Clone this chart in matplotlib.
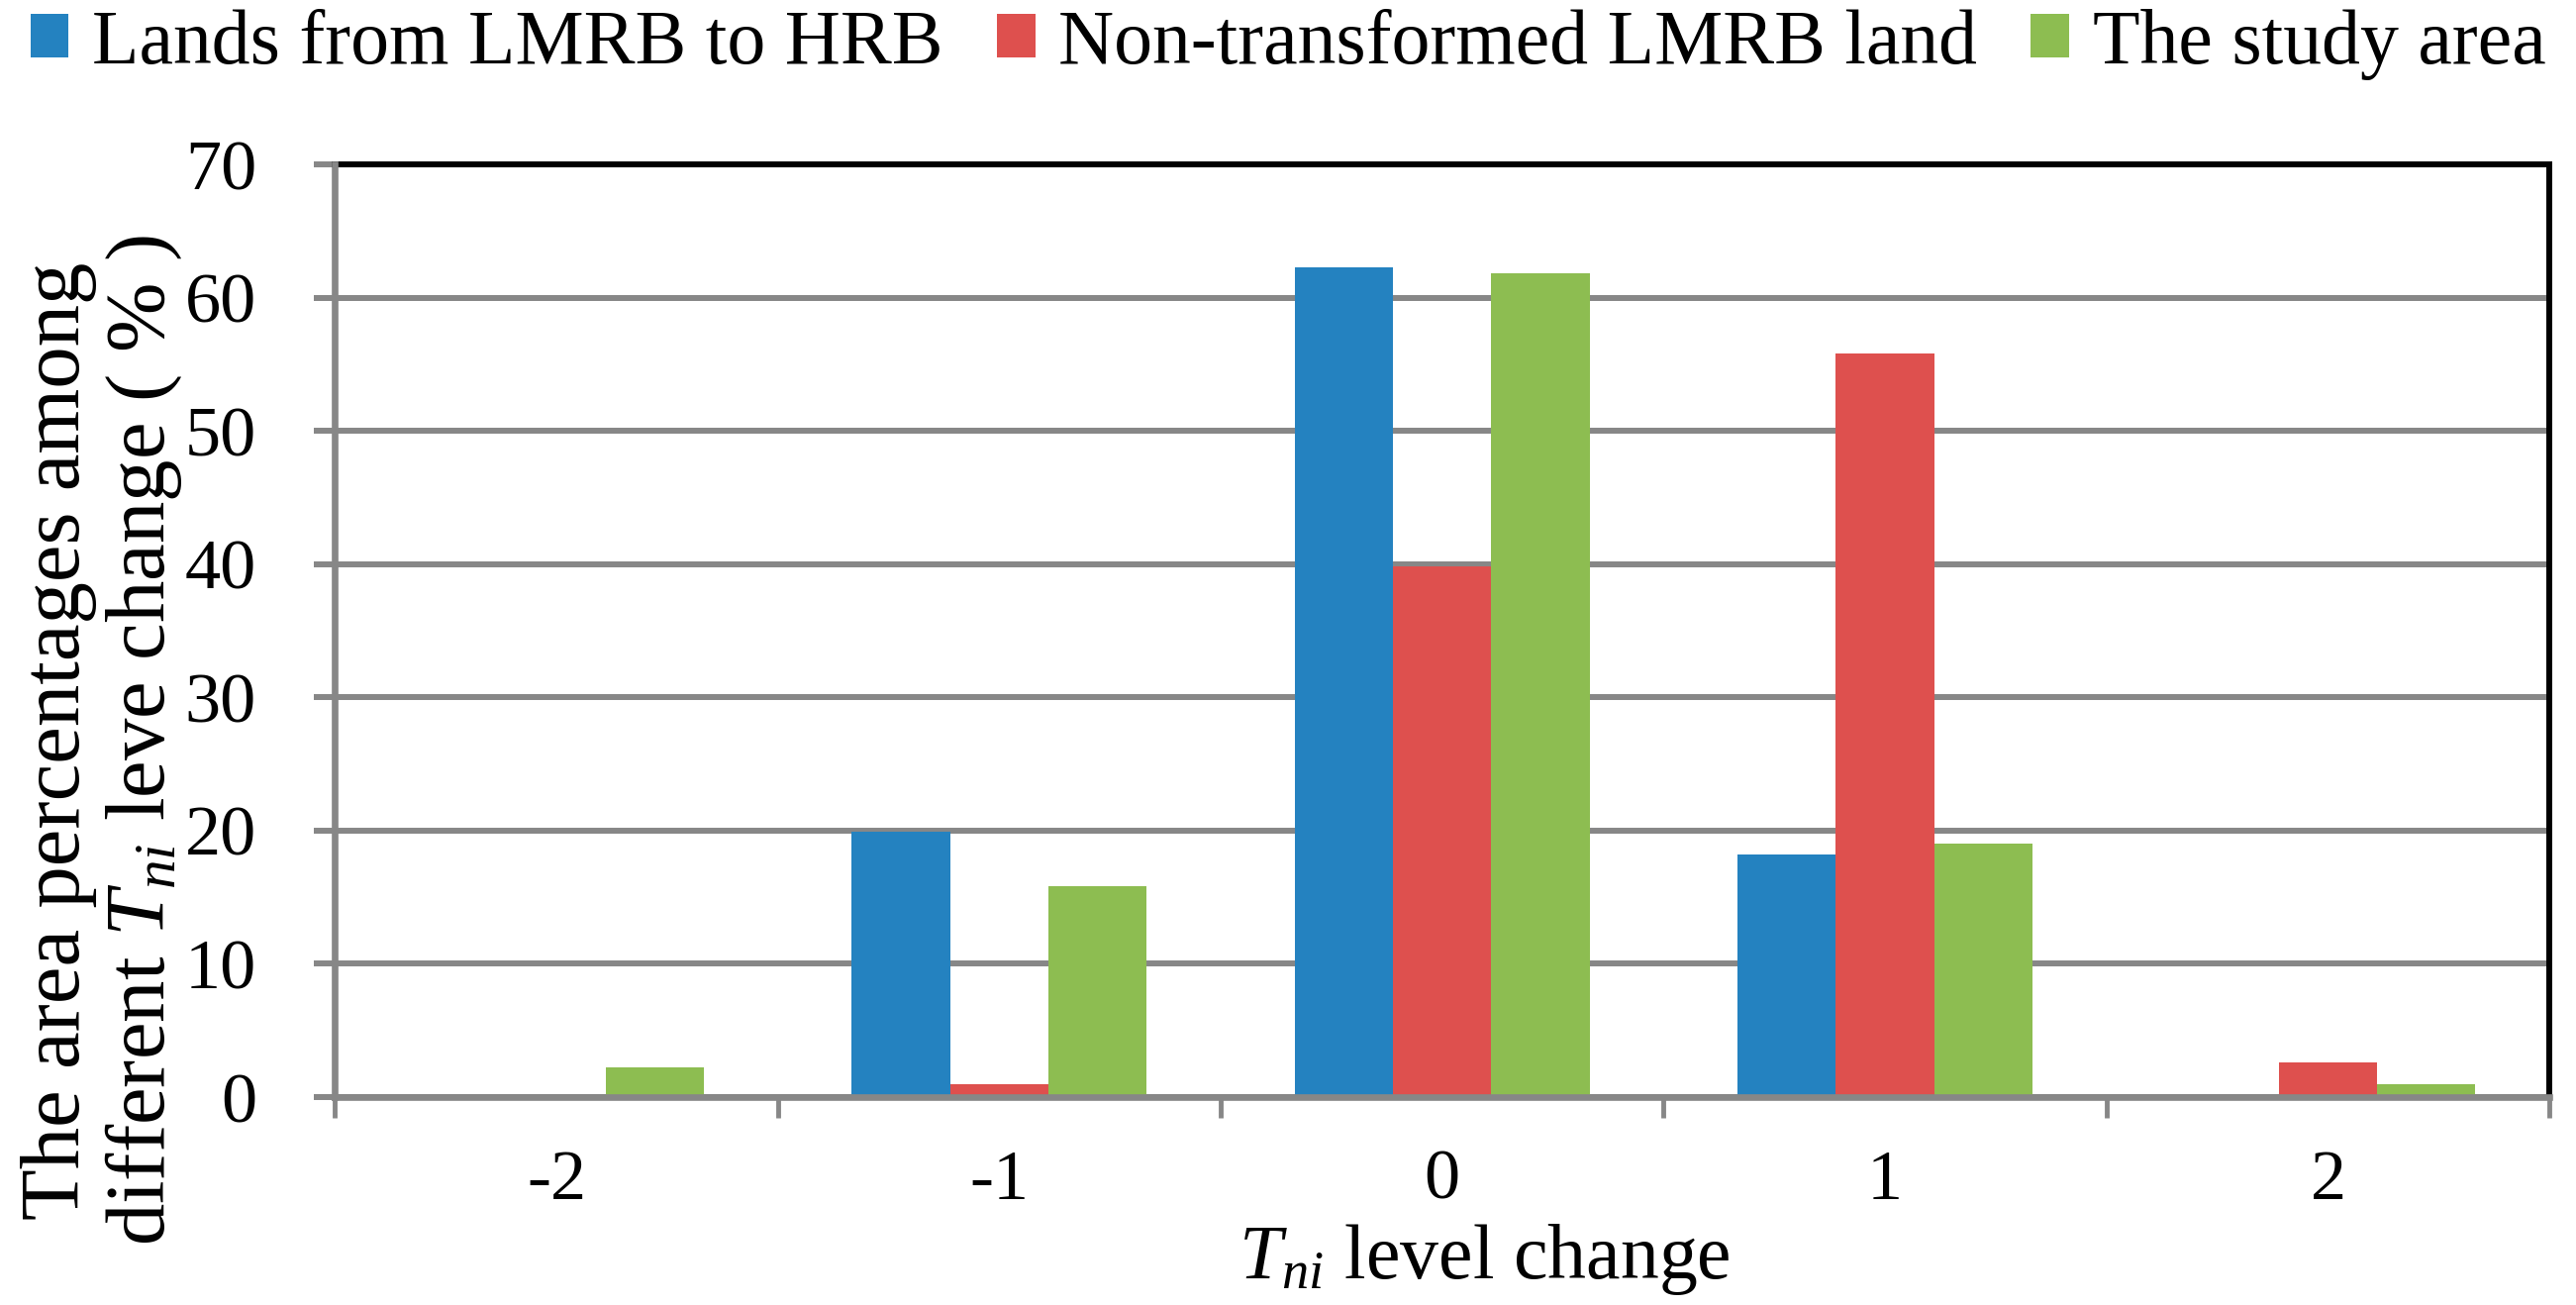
import matplotlib
matplotlib.use("Agg")
import matplotlib.pyplot as plt
from matplotlib.ticker import FixedLocator
import numpy as np

# --------------------------------------------------------------------------- #
# data
# --------------------------------------------------------------------------- #
levels = ["-2", "-1", "0", "1", "2"]
series_names = ["Lands from LMRB to HRB", "Non-transformed LMRB land", "The study area"]
lands_lmrb_to_hrb = [0.0, 19.9, 62.3, 18.2, 0.0]
non_transformed_lmrb = [0.0, 1.0, 39.8, 55.8, 2.6]
study_area = [2.2, 15.8, 61.8, 19.0, 1.0]
y_ticks = [0, 10, 20, 30, 40, 50, 60, 70]

colors = ["#2482c0", "#de504e", "#8dbd51"]
GRAY = "#878787"

plt.rcParams["font.family"] = ["Liberation Serif", "DejaVu Serif"]
plt.rcParams["mathtext.fontset"] = "custom"
plt.rcParams["mathtext.rm"] = "Liberation Serif"
plt.rcParams["mathtext.it"] = "Liberation Serif:italic"

fig = plt.figure(figsize=(26.02, 13.18), dpi=100)
ax = fig.add_axes([0.130, 0.1593, 0.8597, 0.7147])

x = np.arange(len(levels))
w = 0.222   # excel gap width 150 %
for i, vals in enumerate([lands_lmrb_to_hrb, non_transformed_lmrb, study_area]):
    ax.bar(x + (i - 1) * w, vals, width=w, color=colors[i],
           label=series_names[i], zorder=3)

ax.set_xlim(-0.5, len(levels) - 0.5)
ax.set_ylim(0, 70)

# gridlines
ax.set_yticks(y_ticks)
ax.yaxis.grid(True, color=GRAY, linewidth=4.3, zorder=0)
ax.set_axisbelow(True)

# spines: gray left/bottom axes, black box top/right
for s in ["left", "bottom"]:
    ax.spines[s].set_color(GRAY)
    ax.spines[s].set_linewidth(4.8)
    ax.spines[s].set_zorder(4)
for s in ["top", "right"]:
    ax.spines[s].set_color("black")
    ax.spines[s].set_linewidth(4.3)

# x: labels at category centres, tick marks between categories
ax.set_xticks(x)
ax.set_xticklabels(levels)
ax.xaxis.set_minor_locator(FixedLocator(np.arange(-0.5, len(levels), 1.0)))
ax.tick_params(axis="x", which="major", length=0, pad=38, labelsize=52)
ax.tick_params(axis="x", which="minor", length=15, width=3.5, color=GRAY,
               direction="out")
ax.tick_params(axis="y", which="major", length=15, width=4.3, color=GRAY,
               direction="out", pad=42, labelsize=52)

ax.set_xlabel(r"$T_{ni}$ level change", fontsize=56)
ax.xaxis.set_label_coords(0.519, -0.134)
ax.set_ylabel("The area percentages among\ndifferent $T_{ni}$ leve change ( % )",
              fontsize=61, linespacing=1.12)
ax.yaxis.set_label_coords(-0.068, 0.382)

fig.legend(loc="center", bbox_to_anchor=(0.5, 0.966), ncol=3, frameon=False,
           fontsize=56, handlelength=0.5, handleheight=0.5,
           handletextpad=0.3, columnspacing=0.7, borderaxespad=0)

fig.savefig("out.png", dpi=100)
plt.close(fig)
